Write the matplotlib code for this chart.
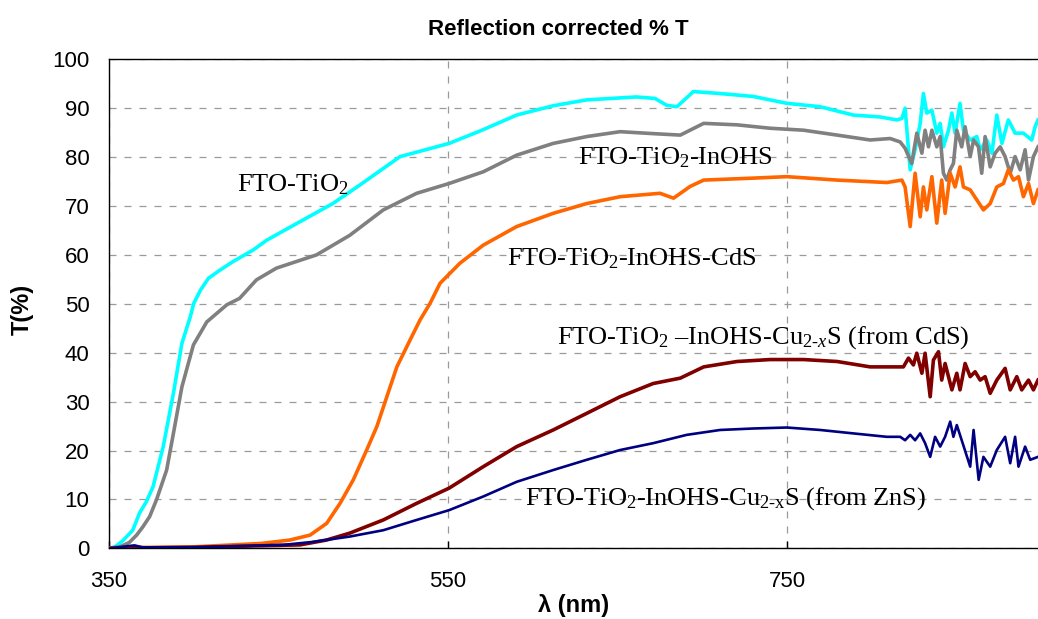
import matplotlib
matplotlib.use("Agg")
import matplotlib.pyplot as plt

# wavelength (nm) / transmittance (%)
cyan_wl = [350, 353.5, 358, 364, 368, 372, 376, 382, 388, 393, 398, 400, 404, 408.6, 415.5, 423, 435, 443,
           462.7, 482, 498, 521.7, 550.6, 570, 590.5, 612, 631.8, 661, 672, 679, 685, 694.7, 710.5, 730,
           749.8, 769.5, 789, 805, 814.7, 817.7, 819.6, 822.6, 825.5, 828.5, 830.4, 832.4, 835.4, 838.3,
           840.3, 842.2, 845.2, 847.2, 849.1, 852, 854, 858, 861.9, 863.9, 867.8, 870.8, 873.7, 876.7,
           880.5, 884.5, 889.4, 894.3, 896.3, 898]
cyan_T = [0, 0.3, 1.5, 3.7, 7.2, 9.5, 12.6, 20.8, 31.7, 41.9, 47.4, 50.1, 52.8, 55.2, 56.9, 58.6, 61, 63,
          66.8, 70.5, 74.3, 80.1, 82.8, 85.5, 88.6, 90.5, 91.7, 92.3, 92.0, 90.6, 90.3, 93.4, 93.0, 92.4,
          91.0, 90.3, 88.6, 88.2, 87.6, 87.9, 90.0, 77.4, 81.5, 86.9, 93.0, 89.0, 89.6, 84.9,
          86.9, 82.1, 85.5, 89.0, 84.9, 91.0, 85.5, 83.5, 84.2, 81.5, 83.5, 80.8, 88.6, 82.8,
          87.6, 84.9, 84.9, 83.5, 86.2, 87.6]

grey_wl = [350, 356.5, 362, 366.3, 370, 374, 378, 384, 388, 393, 399.8, 407.7, 419.5, 427, 437, 448.8,
           472.4, 492, 511.8, 531.5, 550.6, 570.8, 590.5, 612, 631.8, 651.5, 671, 687, 700.8, 720.4, 740,
           759.7, 779.5, 799, 810.8, 816.7, 819.6, 823.5, 826.5, 829.5, 831.4, 833.4, 835.4, 838.3, 840.3,
           842.2, 844.2, 846.2, 848.1, 850.1, 853, 855, 858, 860, 862.9, 864.8, 866.8, 869.8, 872.7, 875.7,
           878.6, 881.6, 884.5, 887.5, 890.4, 892.4, 895.3, 898]
grey_T = [0, 0.3, 1.2, 2.7, 4.4, 6.5, 9.9, 16, 23.5, 33, 41.6, 46.3, 49.8, 51.1, 54.9, 57.3,
          60, 64, 69.2, 72.6, 74.6, 77, 80.4, 82.8, 84.2, 85.2, 84.8, 84.5, 86.9, 86.6, 85.9,
          85.5, 84.5, 83.5, 83.8, 83.1, 81.8, 78.7, 84.9, 80.8, 85.5, 82.1, 85.5, 82.1, 84.2,
          76.7, 75.3, 77.4, 78.7, 85.5, 82.1, 86.2, 80.1, 83.5, 82.1, 76.7, 84.2, 78.0, 80.8, 82.1,
          80.1, 76.7, 80.1, 77.4, 81.5, 75.3, 80.1, 82.1]

orange_wl = [350, 400, 423, 440, 456.8, 468.6, 478.4, 486.3, 494.1, 502, 508, 513.9, 519.8, 527.6, 533.5,
             539.4, 545.3, 557, 570.8, 590.5, 612, 631.8, 651.5, 675, 683, 692.8, 700.8, 730, 749.8, 779.5,
             808.8, 817.7, 819.6, 822.6, 825.5, 828.5, 830.4, 832.4, 835.4, 838.3, 841.2, 843.2, 846.2,
             849.1, 852, 854, 858, 862, 865.8, 869.8, 873.7, 877.6, 880.5, 883.5, 886.5, 889.4, 892.4,
             895.3, 898]
orange_T = [0.1, 0.3, 0.7, 1.0, 1.7, 2.7, 5.1, 9.2, 14, 20.1, 24.9, 31, 37.1, 42.6, 46.7,
            50.1, 54.2, 58.3, 62, 65.8, 68.5, 70.5, 71.9, 72.6, 71.6, 74, 75.3, 75.7, 76, 75.3,
            74.8, 75.3, 73.9, 65.8, 76.7, 67.8, 73.9, 69.2, 76.0, 66.5, 75.3, 68.5, 76.7,
            73.9, 78.0, 73.9, 73.3, 71.2, 69.2, 70.5, 73.9, 74.6, 77.4, 75.3, 76.0, 71.9, 74.6,
            70.5, 73.3]

cds_wl = [350, 400, 462.7, 478.4, 492, 511.8, 531.5, 550.6, 570.8, 590.5, 612, 631.8, 651.5, 671, 687,
          700.8, 720.4, 740, 759.7, 779.5, 799, 818.6, 821.6, 824.5, 826.5, 829.5, 831.4, 834.4, 836.3,
          839.3, 841.2, 843.2, 847.2, 850.1, 852, 855, 858, 860.9, 863.9, 866.8, 869.8, 873.7, 878.6,
          881.6, 885.5, 888.4, 892.4, 895.3, 898]
cds_T = [0, 0.2, 0.7, 1.7, 3.1, 5.8, 9.2, 12.3, 16.7, 20.8, 24.2, 27.6, 31, 33.7, 34.8,
         37.1, 38.2, 38.6, 38.6, 38.2, 37.1, 37.1, 38.9, 37.5, 39.9, 35.8, 39.9, 31.0, 38.5,
         40.2, 34.4, 37.8, 32.4, 35.8, 32.4, 37.8, 35.1, 36.1, 34.4, 35.1, 31.7, 34.4, 36.8,
         32.4, 35.1, 32.4, 34.4, 32.4, 34.4]

zns_wl = [350, 365, 370, 400, 452.8, 470, 492, 511.8, 531.5, 550.6, 570.8, 590.5, 612, 631.8, 651.5, 671,
          690.8, 710.5, 730, 749.8, 769.5, 789, 808.8, 816.7, 819.6, 822.6, 825.5, 828.5, 831.4, 834.4,
          837.3, 840.3, 843.2, 846.2, 848.1, 850.1, 853, 858, 860, 863, 865.8, 869.8, 873.7, 878.6,
          881.6, 884.5, 886.5, 890.4, 893.4, 898]
zns_T = [0, 0.6, 0.2, 0.2, 0.7, 1.3, 2.4, 3.7, 5.8, 7.8, 10.6, 13.6, 16, 18.1, 20.1, 21.5,
         23.2, 24.2, 24.5, 24.7, 24.2, 23.5, 22.8, 22.8, 22.1, 23.2, 22.1, 23.5, 21.5, 18.7,
         22.8, 20.8, 22.8, 25.9, 22.8, 25.2, 22.1, 16.7, 24.2, 14.0, 18.7, 16.7, 20.1, 22.8,
         17.4, 22.8, 16.7, 20.8, 18.1, 18.7]

x_ticks = [350, 550, 750]
y_ticks = list(range(0, 101, 10))

plt.rcParams['font.family'] = ['Liberation Sans', 'DejaVu Sans']
plt.rcParams['mathtext.fontset'] = 'custom'
plt.rcParams['mathtext.rm'] = 'Liberation Serif'
plt.rcParams['mathtext.it'] = 'Liberation Serif:italic'
plt.rcParams['mathtext.bf'] = 'Liberation Serif:bold'

fig = plt.figure(figsize=(10.38, 6.19), dpi=100)
ax = fig.add_axes([0.105, 0.1142, 0.895, 0.79])

ax.plot(cyan_wl, cyan_T, color='#00FFFF', lw=2.6, zorder=3)
ax.plot(grey_wl, grey_T, color='#808080', lw=2.6, zorder=3)
ax.plot(orange_wl, orange_T, color='#FF6600', lw=2.6, zorder=3)
ax.plot(cds_wl, cds_T, color='#800000', lw=2.6, zorder=3)
ax.plot(zns_wl, zns_T, color='#000080', lw=1.9, zorder=4)

ax.set_xlim(350, 898)
ax.set_ylim(0, 100)
ax.set_xticks(x_ticks)
ax.set_yticks(y_ticks)
ax.grid(True, color='#9a9a9a', ls=(0, (5.6, 6.4)), lw=0.9)
ax.set_axisbelow(True)
ax.spines['right'].set_visible(False)
for s in ['left', 'bottom', 'top']:
    ax.spines[s].set_linewidth(1.0)
ax.tick_params(axis='x', direction='in', length=5, width=1, pad=16, labelsize=16)
ax.tick_params(axis='y', length=0, pad=14, labelsize=16)

fig.text(0.538, 0.953, 'Reflection corrected % T', ha='center', va='center',
         fontsize=16, fontweight='bold')
fig.text(0.553, 0.022, 'λ (nm)', ha='center', va='center', fontsize=17, fontweight='bold')
fig.text(0.021, 0.50, 'T(%)', ha='center', va='center', rotation=90, fontsize=17, fontweight='bold')

lab = dict(fontsize=19, family='Liberation Serif', ha='left', va='baseline')
ax.text(425.5, 72.9, 'FTO-TiO$_2$', **lab)
ax.text(626.7, 78.5, 'FTO-TiO$_2$-InOHS', **lab)
ax.text(584.8, 57.8, 'FTO-TiO$_2$-InOHS-CdS', **lab)
ax.text(614.3, 41.8, 'FTO-TiO$_2$ –InOHS-Cu$_{2\\text{-}\\mathit{x}}$S (from CdS)', **lab)
ax.text(595.4, 8.85, 'FTO-TiO$_2$-InOHS-Cu$_{2\\text{-x}}$S (from ZnS)', **lab)

fig.savefig('out.png', dpi=100)
